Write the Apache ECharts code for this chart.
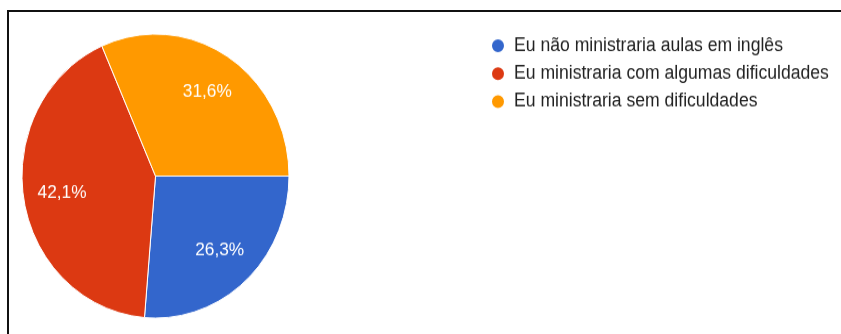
<!DOCTYPE html>
<html>
<head>
<meta charset="utf-8">
<script src="https://cdn.jsdelivr.net/npm/echarts@6/dist/echarts.min.js"></script>
<style>
  html, body { margin: 0; padding: 0; background: #fff; overflow: hidden; }
  #frame {
    position: absolute; left: 7px; top: 10px; width: 900px; height: 400px;
    border-top: 2px solid #111; border-left: 2px solid #111;
  }
  #chart {
    position: absolute; left: 0; top: 0; width: 841px; height: 314px;
    transform: scaleY(1.0637); transform-origin: 0 0;
  }
</style>
</head>
<body>
<div id="frame"></div>
<div id="chart"></div>
<script>
// Answers and how many respondents chose each one
const categories = [
  'Eu não ministraria aulas em inglês',
  'Eu ministraria com algumas dificuldades',
  'Eu ministraria sem dificuldades'
];
const counts = [5, 8, 6];
const colors = ['#3366cc', '#dc3912', '#ff9900'];

const total = counts.reduce((a, b) => a + b, 0);
const pieData = categories.map((name, i) => ({ name, value: counts[i] }));
const fmtPct = p => (p.value / total * 100).toFixed(1).replace('.', ',') + '%';

const font = '"Liberation Sans", Arial, sans-serif';
const chart = echarts.init(document.getElementById('chart'), null, { renderer: 'canvas' });

chart.setOption({
  animation: false,
  color: colors,
  legend: {
    orient: 'vertical',
    left: 485,
    top: 29,
    icon: 'circle',
    itemWidth: 22,
    itemHeight: 14,
    itemGap: 8.3,
    selectedMode: false,
    data: categories,
    textStyle: { fontFamily: font, fontSize: 17.6, color: '#222', lineHeight: 18 }
  },
  series: [
    {
      type: 'pie',
      center: [155.5, 165.5],
      radius: [0, 133.5],
      startAngle: 0,
      clockwise: true,
      silent: true,
      label: { show: false },
      labelLine: { show: false },
      itemStyle: { borderColor: '#fff', borderWidth: 1 },
      data: pieData
    },
    {
      // transparent ring used only to place the percentage labels
      type: 'pie',
      center: [155.5, 165.5],
      radius: [50, 133.5],
      startAngle: 0,
      clockwise: true,
      silent: true,
      avoidLabelOverlap: false,
      itemStyle: { color: 'transparent', borderWidth: 0 },
      label: {
        show: true,
        position: 'inside',
        formatter: fmtPct,
        color: '#fff',
        fontFamily: font,
        fontSize: 17.3
      },
      labelLine: { show: false },
      data: pieData
    }
  ]
});
</script>
</body>
</html>
